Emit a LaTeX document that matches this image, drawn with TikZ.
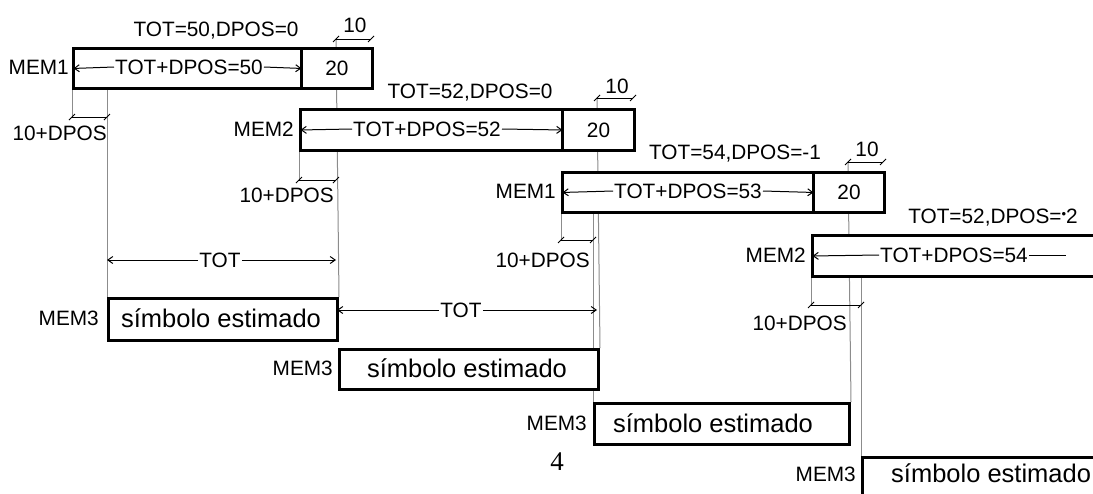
\documentclass[tikz,border=0pt]{standalone}
\usepackage{fontspec}
\setmainfont{Liberation Sans}
\newfontfamily\serifnum{Liberation Serif}
\usetikzlibrary{arrows.meta}
\pgfdeclarelayer{bg}
\pgfsetlayers{bg,main}
\definecolor{vgray}{RGB}{140,140,140}
\begin{document}
\begin{tikzpicture}[x=1pt,y=-1pt,
  lab/.style={font=\fontsize{20.8}{22}\selectfont, inner sep=1pt},
  sym/.style={font=\fontsize{25.5}{28}\selectfont, inner sep=0pt},
  cell/.style={draw, line width=3pt, fill=white, inner sep=0pt, anchor=north west},
  guide/.style={draw=vgray, line width=1pt},
  dimline/.style={line width=1pt},
  arr/.style={line width=1pt, -{Straight Barb[length=5pt,width=7pt]}, shorten >=1.5pt},
  plain/.style={line width=1pt},
  dimtick/.pic={\draw[line width=0.9pt] (-3,3) -- (3,-3);}
]
\useasboundingbox (0,0) rectangle (1093,493);
\clip (0,0) rectangle (1093,493);

% ---------- memory boxes ----------
\node[cell, minimum width=228, minimum height=40] (a1) at (72,47) {};
\node[cell, minimum width=71, minimum height=40] (a1n) at (300,47) {};
\node[cell, minimum width=262, minimum height=41] (a2) at (299,108) {};
\node[cell, minimum width=72, minimum height=41] (a2n) at (561,108) {};
\node[cell, minimum width=251, minimum height=40] (a3) at (561,171) {};
\node[cell, minimum width=71, minimum height=40] (a3n) at (812,171) {};
\node[cell, minimum width=320, minimum height=41] (a4) at (811,234) {};

\node[cell, minimum width=229, minimum height=42] (s1) at (107,297) {};
\node[cell, minimum width=259, minimum height=40] (s2) at (338,348) {};
\node[cell, minimum width=255, minimum height=41] (s3) at (593,402) {};
\node[cell, minimum width=260, minimum height=45] (s4) at (861,456) {};

% ---------- names ----------
\node[lab, anchor=east] (n1) at (70,67) {MEM1};
\node[lab, anchor=east] (n2) at (295,129) {MEM2};
\node[lab, anchor=east] (n3) at (557,191) {MEM1};
\node[lab, anchor=east] (n4) at (807,255) {MEM2};
\node[lab, anchor=east] (n5) at (100,318) {MEM3};
\node[lab, anchor=east] (n6) at (334,368) {MEM3};
\node[lab, anchor=east] (n7) at (588,423) {MEM3};
\node[lab, anchor=east] (n8) at (857,474) {MEM3};

% ---------- symbol texts ----------
\node[sym] (x1) at (221,318) {símbolo estimado};
\node[sym] (x2) at (467,368) {símbolo estimado};
\node[sym] (x3) at (713,423) {símbolo estimado};
\node[sym, anchor=west] (x4) at (891,473) {símbolo estimado};

% ---------- titles ----------
\node[lab] (h1) at (216,31) {TOT=50,DPOS=0};
\node[lab] (h2) at (470,93) {TOT=52,DPOS=0};
\node[lab] (h3) at (735,154) {TOT=54,DPOS=-1};
\node[lab] (h4) at (993,218) {TOT=52,DPOS=\raisebox{5pt}{\fontsize{13}{13}\selectfont •}2};

% ---------- inner lengths ----------
\node[lab] (i1) at (189,67) {TOT+DPOS=50};
\draw[arr] (i1.west) -- (a1.west);
\draw[arr] (i1.east) -- (a1.east);
\node[lab] (i2) at (427,129) {TOT+DPOS=52};
\draw[arr] (i2.west) -- (a2.west);
\draw[arr] (i2.east) -- (a2.east);
\node[lab] (i3) at (688,191) {TOT+DPOS=53};
\draw[arr] (i3.west) -- (a3.west);
\draw[arr] (i3.east) -- (a3.east);
\node[lab] (i4) at (954,255) {TOT+DPOS=54};
\coordinate (i4end) at (1066,255);
\draw[arr] (i4.west) -- (a4.west);
\draw[plain] (i4.east) -- (i4end);

\node[lab] (v1) at (a1n.center) {20};
\node[lab] (v2) at (a2n.center) {20};
\node[lab] (v3) at (a3n.center) {20};

% ---------- "10" dimensions ----------
\coordinate (t1a) at (336,39); \coordinate (t1b) at (371,39);
\coordinate (t2a) at (597,98); \coordinate (t2b) at (633,98);
\coordinate (t3a) at (848,162); \coordinate (t3b) at (883,162);
\draw[dimline] (t1a) -- (t1b);
\draw[dimline] (t2a) -- (t2b);
\draw[dimline] (t3a) -- (t3b);
\foreach \c in {t1a,t1b,t2a,t2b,t3a,t3b} \pic at (\c) {dimtick};
\node[lab] (k1) at (355,25) {10};
\node[lab] (k2) at (617,86) {10};
\node[lab] (k3) at (867,149) {10};

% ---------- "10+DPOS" dimensions ----------
\coordinate (d1a) at (72,117);  \coordinate (d1b) at (107,117);
\coordinate (d2a) at (299,180); \coordinate (d2b) at (336,180);
\coordinate (d3a) at (561,240); \coordinate (d3b) at (593,240);
\coordinate (d4a) at (811,305); \coordinate (d4b) at (861,305);
\draw[dimline] (d1a) -- (d1b);
\draw[dimline] (d2a) -- (d2b);
\draw[dimline] (d3a) -- (d3b);
\draw[dimline] (d4a) -- (d4b);
\foreach \c in {d1a,d1b,d2a,d2b,d3a,d3b,d4a,d4b} \pic at (\c) {dimtick};
\node[lab, anchor=east] (p1) at (108,133) {10+DPOS};
\node[lab, anchor=east] (p2) at (335,195) {10+DPOS};
\node[lab, anchor=east] (p3) at (591,260) {10+DPOS};
\node[lab, anchor=east] (p4) at (848,323) {10+DPOS};

% ---------- TOT dimensions ----------
\coordinate (o1a) at (107,260); \coordinate (o1b) at (336,260);
\coordinate (o2a) at (337,310); \coordinate (o2b) at (597,310);
\node[lab, fill=white] (tt1) at (220,260) {TOT};
\node[lab, fill=white] (tt2) at (461,310) {TOT};
\draw[arr, shorten >=0pt] (tt1.west) -- (o1a);
\draw[arr, shorten >=0pt] (tt1.east) -- (o1b);
\draw[arr, shorten >=0pt] (tt2.west) -- (o2a);
\draw[arr, shorten >=0pt] (tt2.east) -- (o2b);

% ---------- page number ----------
\node[inner sep=0pt] (pg) at (557,462) {\serifnum\fontsize{27}{30}\selectfont 4};

% ---------- gray guide lines ----------
\begin{pgfonlayer}{bg}
\draw[guide] (a1.south west) -- (d1a);
\draw[guide] (s1.north west |- a1.south) -- (s1.north west);
\draw[guide] (t1a) -- (s1.north east);
\draw[guide] (a2.south west) -- (d2a);
\draw[guide] (t2a) -- (s2.north east);
\draw[guide] (a3.south west) -- (d3a);
\draw[guide] (s3.north west |- a3.south) -- (s3.north west);
\draw[guide] (t3a) -- (s3.north east);
\draw[guide] (a4.south west) -- (d4a);
\draw[guide] (s4.north west |- a4.south) -- (s4.north west);
\end{pgfonlayer}
\end{tikzpicture}
\end{document}
